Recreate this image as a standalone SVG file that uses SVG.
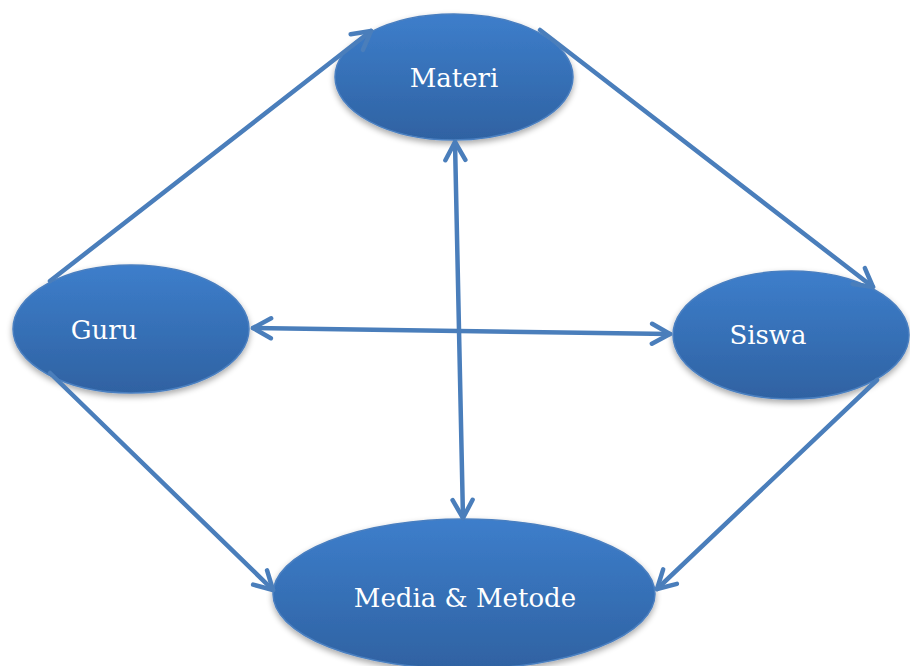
<svg xmlns="http://www.w3.org/2000/svg" width="910" height="666" viewBox="0 0 910 666">
<style>
.node{fill:url(#g);stroke:#4a7fc0;stroke-width:1.5;filter:url(#sh)}
.lbl{font-family:"DejaVu Serif","Liberation Serif",serif;font-size:26px;fill:#fff;text-anchor:middle}
.cn{fill:none;stroke:#4a7ebb;stroke-width:4.5;stroke-linecap:round}
</style>
<defs>
<linearGradient id="g" x1="0" y1="0" x2="0" y2="1">
<stop offset="0" stop-color="#3d7ecb"/>
<stop offset="1" stop-color="#2f62a2"/>
</linearGradient>
<filter id="sh" x="-10%" y="-10%" width="120%" height="130%">
<feGaussianBlur in="SourceAlpha" stdDeviation="3"/>
<feOffset dy="3"/>
<feComponentTransfer><feFuncA type="linear" slope="0.35"/></feComponentTransfer>
<feMerge><feMergeNode/><feMergeNode in="SourceGraphic"/></feMerge>
</filter>
<marker id="ah" markerUnits="userSpaceOnUse" viewBox="-22 -13 26 26" markerWidth="26" markerHeight="26" refX="0" refY="0" orient="auto-start-reverse">
<path d="M-18,-10 L0,0 L-18,10" fill="none" stroke="#4a7ebb" stroke-width="4.5" stroke-linecap="round" stroke-linejoin="round"/>
</marker>
</defs>
<g id="materi"><ellipse class="node" cx="454" cy="77" rx="119" ry="63"/><text class="lbl" x="454" y="87">Materi</text></g>
<g id="guru"><ellipse class="node" cx="131" cy="329" rx="118" ry="64"/><text class="lbl" x="104" y="339">Guru</text></g>
<g id="siswa"><ellipse class="node" cx="791" cy="335" rx="118" ry="64"/><text class="lbl" x="768" y="344">Siswa</text></g>
<g id="media"><ellipse class="node" cx="464" cy="594" rx="191" ry="75"/><text class="lbl" x="465" y="607">Media &amp; Metode</text></g>
<g id="connectors">
<line class="cn" x1="50" y1="281" x2="371" y2="31" marker-end="url(#ah)"/>
<line class="cn" x1="540" y1="30" x2="873" y2="287" marker-end="url(#ah)"/>
<line class="cn" x1="253" y1="328" x2="670" y2="334" marker-start="url(#ah)" marker-end="url(#ah)"/>
<line class="cn" x1="455" y1="142" x2="463" y2="518" marker-start="url(#ah)" marker-end="url(#ah)"/>
<line class="cn" x1="50" y1="373" x2="273" y2="590" marker-end="url(#ah)"/>
<line class="cn" x1="877" y1="380" x2="657" y2="589" marker-end="url(#ah)"/>
</g>
</svg>
